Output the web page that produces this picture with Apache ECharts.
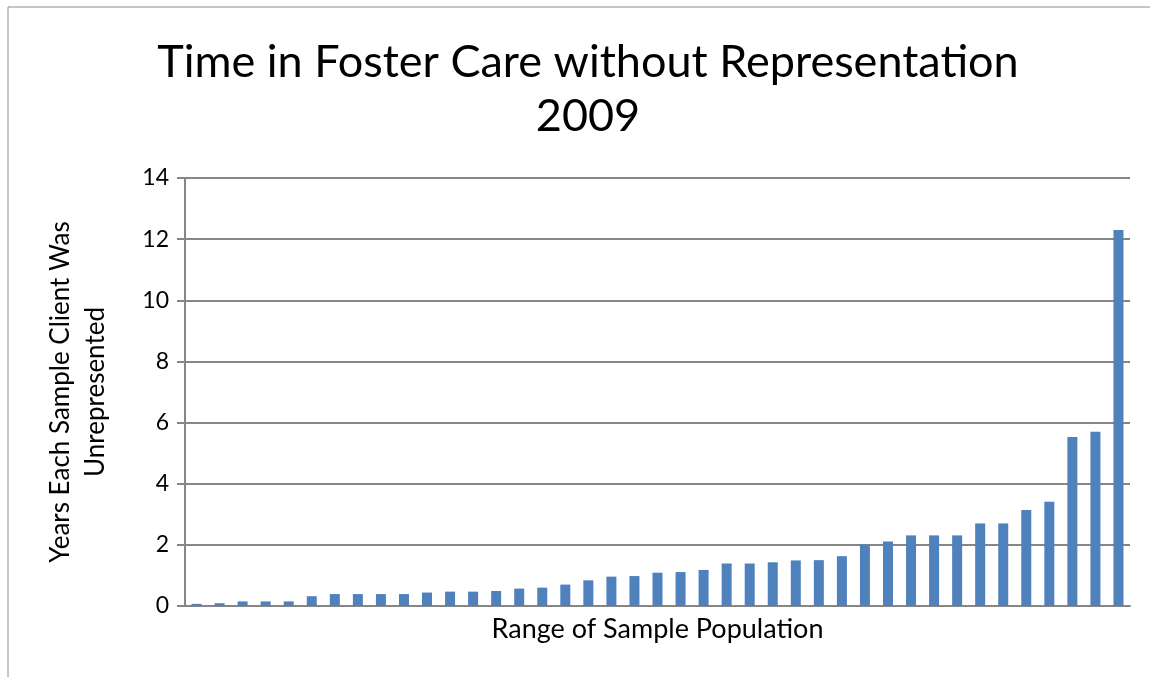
<!DOCTYPE html>
<html>
<head>
<meta charset="utf-8">
<title>Time in Foster Care without Representation</title>
<script src="https://cdn.jsdelivr.net/npm/echarts@6/dist/echarts.min.js"></script>
<style>
  html, body { margin: 0; padding: 0; background: #fff; }
  #chart { width: 1150px; height: 677px; }
</style>
</head>
<body>
<div id="chart"></div>
<script>
// one bar per sample client, sorted ascending
const categories = Array.from({length: 41}, (_, i) => 'Client ' + (i + 1));
const years = [
  0.07, 0.09, 0.15, 0.15, 0.15, 0.32, 0.39, 0.39, 0.39, 0.39,
  0.44, 0.47, 0.47, 0.49, 0.57, 0.60, 0.70, 0.84, 0.96, 0.98,
  1.09, 1.11, 1.18, 1.39, 1.39, 1.43, 1.49, 1.50, 1.63, 2.01,
  2.11, 2.31, 2.31, 2.31, 2.70, 2.70, 3.14, 3.41, 5.53, 5.70,
  12.3
];
const yTicks = [0, 2, 4, 6, 8, 10, 12, 14];

const font = 'Lato, Liberation Sans, sans-serif';
const chart = echarts.init(document.getElementById('chart'));

chart.setOption({
  backgroundColor: '#fff',
  animation: false,
  textStyle: {fontFamily: font, color: '#000'},
  graphic: [{
    type: 'rect',
    shape: {x: 8, y: 7, width: 1300, height: 800},
    style: {fill: 'none', stroke: '#8c8c8c', lineWidth: 1},
    silent: true
  }],
  title: {
    text: 'Time in Foster Care without Representation\n2009',
    left: 583,
    textAlign: 'center',
    top: 30,
    textStyle: {
      fontFamily: font,
      fontSize: 45,
      fontWeight: 'normal',
      color: '#000',
      lineHeight: 54
    }
  },
  grid: {left: 185, right: 20, top: 178, bottom: 71},
  xAxis: {
    type: 'category',
    data: categories,
    name: 'Range of Sample Population',
    nameLocation: 'middle',
    nameGap: 10,
    nameTextStyle: {fontSize: 27, fontFamily: font, color: '#000'},
    axisTick: {show: false},
    axisLabel: {show: false},
    axisLine: {lineStyle: {color: '#868686', width: 2}}
  },
  yAxis: {
    type: 'value',
    min: yTicks[0],
    max: yTicks[yTicks.length - 1],
    interval: 2,
    name: 'Years Each Sample Client Was\nUnrepresented',
    nameLocation: 'middle',
    nameGap: 72,
    nameTextStyle: {fontSize: 26, fontFamily: font, color: '#000', lineHeight: 35},
    axisLine: {show: true, lineStyle: {color: '#868686', width: 2}},
    axisTick: {show: true, length: 8, lineStyle: {color: '#868686', width: 2}},
    axisLabel: {fontSize: 23, fontFamily: font, color: '#000', margin: 16},
    splitLine: {lineStyle: {color: '#868686', width: 2}}
  },
  series: [{
    type: 'bar',
    data: years,
    barWidth: 10,
    itemStyle: {color: '#4f81bd'}
  }]
});
</script>
</body>
</html>
